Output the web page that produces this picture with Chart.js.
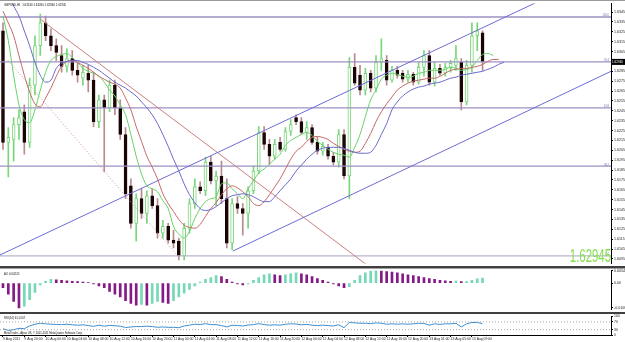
<!DOCTYPE html>
<html>
<head>
<meta charset="utf-8">
<script src="https://cdn.jsdelivr.net/npm/chart.js@4/dist/chart.umd.min.js"></script>
<style>
  html, body { margin: 0; padding: 0; background: #fff; }
  #wrap { position: relative; width: 625px; height: 342px; overflow: hidden; background: #fff; }
  .pane { position: absolute; left: 0; }
  #mainPane { top: 0; }
  #aoPane { top: 267px; }
  #rsiPane { top: 313px; }
</style>
</head>
<body>
<div id="wrap">
  <div class="pane" id="mainPane"><canvas id="mainChart" width="625" height="267"></canvas></div>
  <div class="pane" id="aoPane"><canvas id="aoChart" width="625" height="46"></canvas></div>
  <div class="pane" id="rsiPane"><canvas id="rsiChart" width="625" height="29"></canvas></div>
</div>
<script>
// ---------- data ----------
const symbolName = 'GBPUSD,H1'
const copyright = 'MetaTrader - Alpari UK, \u00a9 2001-2011 MetaQuotes Software Corp.'

const timeLabels = [
  '9 Aug 2011', '9 Aug 20:00', '10 Aug 00:00', '10 Aug 04:00', '10 Aug 08:00', '10 Aug 12:00',
  '10 Aug 16:00', '10 Aug 20:00', '11 Aug 00:00', '11 Aug 04:00', '11 Aug 08:00', '11 Aug 12:00',
  '11 Aug 16:00', '11 Aug 20:00', '12 Aug 00:00', '12 Aug 04:00', '12 Aug 08:00', '12 Aug 12:00',
  '12 Aug 16:00', '12 Aug 20:00', '13 Aug 01:00', '13 Aug 05:00', '13 Aug 09:00'
]
const timeTickBars = [0, 4, 8, 12, 16, 20, 24, 28, 32, 36, 40, 44, 48, 52, 56, 60, 64, 68, 72, 76, 80, 84, 88]

const priceTicks = [
  1.6095, 1.6105, 1.6115, 1.6125, 1.6135, 1.6145, 1.6155, 1.6165, 1.6175, 1.6185, 1.6195, 1.6205, 1.6215,
  1.6225, 1.6235, 1.6245, 1.6255, 1.6265, 1.6275, 1.6285, 1.6295, 1.6305, 1.6315, 1.6325, 1.6335, 1.6345
]

const opens = [
  1.6326, 1.6213, 1.6216, 1.6231, 1.6244, 1.6213, 1.6271, 1.6311, 1.6334, 1.6321,
  1.6311, 1.6301, 1.6290, 1.6298, 1.6286, 1.6278, 1.6283, 1.6276, 1.6234, 1.6256,
  1.6248, 1.6271, 1.6248, 1.6221, 1.6169, 1.6131, 1.6156, 1.6141, 1.6159, 1.6149,
  1.6121, 1.6128, 1.6114, 1.6113, 1.6098, 1.6126, 1.6151, 1.6168, 1.6164, 1.6193,
  1.6174, 1.6179, 1.6156, 1.6111, 1.6151, 1.6146, 1.6141, 1.6164, 1.6184, 1.6223,
  1.6211, 1.6199, 1.6213, 1.6206, 1.6224, 1.6238, 1.6234, 1.6223, 1.6228, 1.6213,
  1.6204, 1.6208, 1.6199, 1.6193, 1.6221, 1.6179, 1.6289, 1.6281, 1.6266, 1.6283,
  1.6268, 1.6294, 1.6296, 1.6276, 1.6286, 1.6283, 1.6277, 1.6282, 1.6274, 1.6289,
  1.6301, 1.6274, 1.6288, 1.6283, 1.6289, 1.6291, 1.6294, 1.6254, 1.6291, 1.6321,
  1.6324
]
const highs = [
  1.6334, 1.6228, 1.6238, 1.6246, 1.6251, 1.6278, 1.6321, 1.6343, 1.6341, 1.6328,
  1.6318, 1.6311, 1.6308, 1.6306, 1.6294, 1.6291, 1.6291, 1.6284, 1.6261, 1.6261,
  1.6276, 1.6276, 1.6256, 1.6228, 1.6176, 1.6161, 1.6166, 1.6164, 1.6166, 1.6156,
  1.6134, 1.6131, 1.6124, 1.6116, 1.6131, 1.6156, 1.6176, 1.6173, 1.6198, 1.6199,
  1.6184, 1.6194, 1.6176, 1.6156, 1.6158, 1.6151, 1.6168, 1.6189, 1.6229, 1.6229,
  1.6216, 1.6216, 1.6218, 1.6228, 1.6236, 1.6241, 1.6238, 1.6234, 1.6231, 1.6218,
  1.6213, 1.6211, 1.6203, 1.6226, 1.6226, 1.6299, 1.6303, 1.6291, 1.6288, 1.6286,
  1.6301, 1.6318, 1.6301, 1.6290, 1.6290, 1.6286, 1.6286, 1.6284, 1.6294, 1.6306,
  1.6306, 1.6294, 1.6292, 1.6293, 1.6296, 1.6311, 1.6298, 1.6296, 1.6334, 1.6334,
  1.6326
]
const lows = [
  1.6206, 1.6178, 1.6194, 1.6216, 1.6201, 1.6208, 1.6261, 1.6301, 1.6316, 1.6306,
  1.6296, 1.6284, 1.6284, 1.6281, 1.6274, 1.6271, 1.6264, 1.6229, 1.6228, 1.6183,
  1.6244, 1.6241, 1.6216, 1.6156, 1.6126, 1.6113, 1.6136, 1.6131, 1.6146, 1.6116,
  1.6116, 1.6111, 1.6106, 1.6094, 1.6094, 1.6121, 1.6146, 1.6161, 1.6159, 1.6171,
  1.6149, 1.6151, 1.6106, 1.6104, 1.6141, 1.6119, 1.6126, 1.6161, 1.6181, 1.6206,
  1.6191, 1.6196, 1.6204, 1.6204, 1.6220, 1.6231, 1.6221, 1.6216, 1.6211, 1.6201,
  1.6200, 1.6196, 1.6190, 1.6188, 1.6176, 1.6156, 1.6271, 1.6261, 1.6261, 1.6264,
  1.6264, 1.6286, 1.6271, 1.6274, 1.6278, 1.6274, 1.6274, 1.6271, 1.6272, 1.6280,
  1.6271, 1.6270, 1.6281, 1.6280, 1.6284, 1.6286, 1.6246, 1.6251, 1.6284, 1.6306,
  1.6286
]
const closes = [
  1.6213, 1.6218, 1.6231, 1.6238, 1.6213, 1.6271, 1.6311, 1.6334, 1.6321, 1.6311,
  1.6304, 1.6290, 1.6298, 1.6286, 1.6281, 1.6284, 1.6276, 1.6234, 1.6256, 1.6248,
  1.6271, 1.6248, 1.6221, 1.6161, 1.6131, 1.6156, 1.6141, 1.6159, 1.6149, 1.6121,
  1.6128, 1.6114, 1.6111, 1.6098, 1.6126, 1.6151, 1.6168, 1.6164, 1.6193, 1.6174,
  1.6179, 1.6156, 1.6111, 1.6151, 1.6146, 1.6141, 1.6164, 1.6184, 1.6223, 1.6211,
  1.6199, 1.6211, 1.6206, 1.6224, 1.6231, 1.6234, 1.6223, 1.6228, 1.6213, 1.6204,
  1.6209, 1.6199, 1.6193, 1.6221, 1.6179, 1.6289, 1.6273, 1.6266, 1.6283, 1.6268,
  1.6294, 1.6298, 1.6276, 1.6286, 1.6281, 1.6277, 1.6282, 1.6274, 1.6289, 1.6301,
  1.6274, 1.6288, 1.6283, 1.6289, 1.6293, 1.6298, 1.6254, 1.6291, 1.6321, 1.6326,
  1.62945
]

// Alligator lines (lips green, teeth red, jaw blue), shifted past the last bar
const lipsLine = [
  1.6341, 1.6316, 1.6281, 1.6251, 1.6236, 1.6233, 1.6246, 1.6266, 1.6284, 1.6296,
  1.6300, 1.6302, 1.6303, 1.6299, 1.6294, 1.6288, 1.6285, 1.6283, 1.6280, 1.6274,
  1.6266, 1.6260, 1.6251, 1.6241, 1.6221, 1.6199, 1.6181, 1.6169, 1.6166, 1.6163,
  1.6154, 1.6146, 1.6128, 1.6120, 1.6116, 1.6123, 1.6136, 1.6146, 1.6153, 1.6156,
  1.6158, 1.6171, 1.6172, 1.6166, 1.6161, 1.6156, 1.6166, 1.6174, 1.6182, 1.6186,
  1.6191, 1.6196, 1.6201, 1.6210, 1.6215, 1.6218, 1.6221, 1.6223, 1.6220, 1.6214,
  1.6210, 1.6206, 1.6203, 1.6201, 1.6200, 1.6198, 1.6208, 1.6221, 1.6239, 1.6256,
  1.6266, 1.6277, 1.6281, 1.6283, 1.6282, 1.6280, 1.6279, 1.6280, 1.6283, 1.6284,
  1.6286, 1.6286, 1.6286, 1.6287, 1.6289, 1.6288, 1.6286, 1.6287, 1.6289, 1.6296,
  1.6302, 1.6303, 1.6301
]
const teethLine = [
  1.6346, 1.6334, 1.6321, 1.6301, 1.6281, 1.6264, 1.6252, 1.6249, 1.6258, 1.6268,
  1.6280, 1.6290, 1.6295, 1.6296, 1.6294, 1.6291, 1.6288, 1.6284, 1.6280, 1.6277,
  1.6274, 1.6272, 1.6268, 1.6258, 1.6246, 1.6229, 1.6214, 1.6199, 1.6188, 1.6176,
  1.6161, 1.6151, 1.6143, 1.6135, 1.6129, 1.6127, 1.6126, 1.6130, 1.6138, 1.6146,
  1.6152, 1.6160, 1.6166, 1.6169, 1.6167, 1.6163, 1.6158, 1.6151, 1.6149, 1.6153,
  1.6160, 1.6168, 1.6176, 1.6186, 1.6196, 1.6204, 1.6208, 1.6214, 1.6218, 1.6219,
  1.6218, 1.6216, 1.6212, 1.6209, 1.6206, 1.6204, 1.6203, 1.6204, 1.6212, 1.6222,
  1.6234, 1.6244, 1.6252, 1.6259, 1.6266, 1.6270, 1.6273, 1.6275, 1.6276, 1.6277,
  1.6278, 1.6278, 1.6280, 1.6283, 1.6286, 1.6287, 1.6288, 1.6288, 1.6289, 1.6290,
  1.6292, 1.6295, 1.6297, 1.6297
]
const jawLine = [
  1.6366, 1.6361, 1.6351, 1.6341, 1.6326, 1.6311, 1.6294, 1.6281, 1.6274, 1.6276,
  1.6288, 1.6293, 1.6295, 1.6296, 1.6296, 1.6294, 1.6292, 1.6289, 1.6286, 1.6282,
  1.6278, 1.6274, 1.6271, 1.6268, 1.6264, 1.6260, 1.6254, 1.6248, 1.6241, 1.6232,
  1.6221, 1.6209, 1.6196, 1.6184, 1.6171, 1.6160, 1.6152, 1.6146, 1.6144, 1.6145,
  1.6148, 1.6152, 1.6156, 1.6159, 1.6160, 1.6161, 1.6160, 1.6158, 1.6155, 1.6153,
  1.6153, 1.6158, 1.6164, 1.6170, 1.6176, 1.6184, 1.6190, 1.6196, 1.6201, 1.6205,
  1.6207, 1.6208, 1.6208, 1.6208, 1.6207, 1.6205, 1.6203, 1.6202, 1.6202, 1.6203,
  1.6210, 1.6221, 1.6232, 1.6246, 1.6254, 1.6260, 1.6264, 1.6267, 1.6269, 1.6270,
  1.6272, 1.6273, 1.6274, 1.6276, 1.6278, 1.6279, 1.6281, 1.6282, 1.6283, 1.6284,
  1.6285, 1.6287, 1.6289, 1.6292, 1.6294
]

// drawn objects: [bar, price] end points
const upperChannel = [[-0.56, 1.6099], [99.8, 1.6354]]
const lowerChannel = [[43.15, 1.6103], [114.1, 1.6285]]
const redTrend = [[6.94, 1.6338], [68.5, 1.6088]]
const redDotted = [[0.94, 1.6296], [32.8, 1.6098]]
const levelPrices = [1.6340, 1.62945, 1.6248, 1.6189, 1.6098]
const levelLabels = ['100.0', '76.4', '61.8', '38.2', '0.0']
const bigPriceText = '1.62945'

const aoValues = [
  -0.0020, -0.0048, -0.0080, -0.0108, -0.0100, -0.0072, -0.0040, -0.0008, 0.0008, 0.0016,
  0.0014, 0.0012, 0.0010, 0.0008, 0.0006, 0.0004, 0.0002, -0.0004, -0.0012, -0.0020,
  -0.0036, -0.0048, -0.0060, -0.0076, -0.0088, -0.0096, -0.0092, -0.0096, -0.0088, -0.0080,
  -0.0084, -0.0088, -0.0076, -0.0060, -0.0044, -0.0028, -0.0012, 0.0004, 0.0016, 0.0024,
  0.0032, 0.0028, 0.0016, 0.0004, -0.0004, -0.0008, -0.0004, 0.0012, 0.0024, 0.0036,
  0.0040, 0.0036, 0.0032, 0.0036, 0.0040, 0.0044, 0.0040, 0.0036, 0.0028, 0.0020,
  0.0012, 0.0004, -0.0004, -0.0012, -0.0020, -0.0016, 0.0012, 0.0032, 0.0044, 0.0052,
  0.0054, 0.0052, 0.0050, 0.0048, 0.0044, 0.0040, 0.0036, 0.0032, 0.0028, 0.0024,
  0.0020, 0.0016, 0.0012, 0.0010, 0.0008, 0.0009, 0.0006, 0.0007, 0.0012, 0.0018,
  0.0022
]
const aoTicks = [-0.0108, 0, 0.0054]

const rsiValues = [
  35, 26, 30, 37, 35, 49, 58, 63, 60, 58,
  57, 56, 58, 55, 53, 55, 51, 47, 53, 48,
  52, 50, 48, 41, 44, 46, 46, 48, 46, 42,
  44, 42, 42, 40, 49, 53, 58, 56, 61, 56,
  56, 51, 44, 53, 51, 49, 54, 56, 61, 56,
  53, 55, 53, 58, 60, 59, 55, 57, 53, 51,
  53, 51, 49, 55, 40, 67, 65, 63, 63, 61,
  65, 63, 58, 60, 58, 60, 58, 60, 63, 62,
  53, 60, 57, 60, 60, 63, 44, 60, 67, 67,
  61.0107
]
const rsiTicks = [0, 30, 70, 100]
const rsiLevels = [70, 30]

// ---------- helpers ----------
const barMin = -0.56
const barMax = 114.1
const FONT = '"Liberation Sans", Arial, sans-serif'

const pts = (arr) => arr.map((v, i) => ({ x: i, y: v }))
const seg = (pair) => pair.map(([x, y]) => ({ x, y }))
const flat = (y) => [{ x: barMin, y }, { x: barMax, y }]

function squish(ctx, text, x, y, size, color, sx, align = 'left') {
  ctx.save()
  ctx.translate(x, y)
  ctx.scale(sx, 1)
  ctx.font = `${size}px ${FONT}`
  ctx.fillStyle = color
  ctx.textAlign = align
  ctx.textBaseline = 'alphabetic'
  ctx.fillText(text, 0, 0)
  ctx.restore()
}

const lineSet = (data, color, extra = {}) => ({
  type: 'line',
  data,
  borderColor: color,
  borderWidth: 1,
  pointRadius: 0,
  fill: false,
  ...extra
})

const rightAxis = (extra) => ({
  position: 'right',
  bounds: 'data',
  beginAtZero: false,
  afterFit: (s) => { s.width = 14 },
  grid: { drawOnChartArea: false, tickLength: 2, color: '#000' },
  border: { color: '#000' },
  ...extra
})

const hiddenX = {
  type: 'linear', min: barMin, max: barMax, offset: false, display: false, bounds: 'data'
}

const base = {
  responsive: false,
  animation: false,
  devicePixelRatio: 1,
  events: [],
  plugins: { legend: { display: false }, tooltip: { enabled: false } }
}

// ---------- main price panel ----------
const isBull = closes.map((c, i) => c >= opens[i])

const mainDecor = {
  id: 'mainDecor',
  afterDraw(chart) {
    const { ctx, scales } = chart
    const last = closes.length - 1
    const head = `${symbolName}  ${opens[last].toFixed(5)} ${highs[last].toFixed(5)} ${lows[last].toFixed(5)} ${closes[last].toFixed(5)}`
    ctx.save()
    ctx.fillStyle = '#9a9a9a'
    ctx.fillRect(0, 0, 625, 1)
    ctx.fillStyle = '#404040'
    ctx.fillRect(0, 266, 625, 1)
    squish(ctx, head, 4, 6, 3.6, '#111', 0.8)

    levelPrices.forEach((p, i) => {
      const y = scales.y.getPixelForValue(p)
      squish(ctx, levelLabels[i], 609, y - 0.5, 3.2, '#7468a8', 0.8, 'right')
    })

    squish(ctx, bigPriceText, 611, 262, 19, '#84e04c', 0.6, 'right')

    const by = scales.y.getPixelForValue(closes[last])
    ctx.fillStyle = '#000'
    ctx.fillRect(611, by - 3, 14, 6)
    squish(ctx, closes[last].toFixed(5), 612, by + 1.5, 3.6, '#fff', 0.85)
    ctx.restore()
  }
}

new Chart(document.getElementById('mainChart'), {
  type: 'bar',
  data: {
    datasets: [
      {
        label: 'wicks',
        data: highs.map((h, i) => ({ x: i, y: [lows[i], h] })),
        backgroundColor: isBull.map((b) => (b ? '#7ad67a' : '#b88a8e')),
        barThickness: 1,
        grouped: false,
        order: 6
      },
      {
        label: 'bodies',
        data: opens.map((o, i) => ({ x: i, y: [o, closes[i]] })),
        backgroundColor: isBull.map((b) => (b ? '#ffffff' : '#1a0505')),
        borderColor: isBull.map((b) => (b ? '#7ad67a' : '#1a0505')),
        borderWidth: 1,
        borderSkipped: false,
        barThickness: 3,
        minBarLength: 1,
        grouped: false,
        order: 5
      },
      ...levelPrices.map((p, i) =>
        lineSet(flat(p), i === levelPrices.length - 1 ? '#bdb6cc' : '#9c90c2', { borderWidth: 1.3, order: 4 })
      ),
      lineSet(seg(upperChannel), '#6c6cd6', { order: 3 }),
      lineSet(seg(lowerChannel), '#6c6cd6', { order: 3 }),
      lineSet(seg(redTrend), '#c98080', { order: 3 }),
      lineSet(seg(redDotted), '#d49090', { borderDash: [1, 2], order: 3 }),
      lineSet(pts(jawLine), '#6a6acc', { cubicInterpolationMode: 'monotone', order: 1 }),
      lineSet(pts(teethLine), '#c46868', { cubicInterpolationMode: 'monotone', order: 1 }),
      lineSet(pts(lipsLine), '#66d266', { cubicInterpolationMode: 'monotone', order: 1 })
    ]
  },
  options: {
    ...base,
    layout: { padding: { top: 2, bottom: 1, left: 0, right: 0 } },
    scales: {
      x: hiddenX,
      y: rightAxis({
        min: 1.6090,
        max: 1.6354,
        afterBuildTicks: (s) => { s.ticks = priceTicks.map((v) => ({ value: v })) },
        ticks: {
          font: { size: 3.6, family: FONT },
          color: '#222',
          padding: 1,
          autoSkip: false,
          callback: (v) => Number(v).toFixed(4)
        }
      })
    }
  },
  plugins: [mainDecor]
})

// ---------- Awesome Oscillator ----------
const aoColors = aoValues.map((v, i) => (i > 0 && v > aoValues[i - 1] ? '#76d8b4' : '#841a86'))

const aoDecor = {
  id: 'aoDecor',
  afterDraw(chart) {
    const { ctx } = chart
    ctx.save()
    ctx.fillStyle = '#404040'
    ctx.fillRect(0, 0, 625, 1.5)
    ctx.fillRect(0, 45, 625, 1)
    squish(ctx, `AO ${aoValues[aoValues.length - 1].toFixed(5)}`, 4, 8, 3.6, '#111', 0.8)
    ctx.restore()
  }
}

new Chart(document.getElementById('aoChart'), {
  type: 'bar',
  data: {
    datasets: [{
      data: pts(aoValues),
      backgroundColor: aoColors,
      barThickness: 2,
      grouped: false
    }]
  },
  options: {
    ...base,
    layout: { padding: { top: 2, bottom: 1, left: 0, right: 0 } },
    scales: {
      x: hiddenX,
      y: rightAxis({
        min: -0.0116,
        max: 0.0056,
        afterBuildTicks: (s) => { s.ticks = aoTicks.map((v) => ({ value: v })) },
        ticks: {
          font: { size: 3.6, family: FONT },
          color: '#222',
          padding: 1,
          autoSkip: false,
          callback: (v) => (v === 0 ? '0.00' : Number(v).toFixed(6))
        }
      })
    }
  },
  plugins: [aoDecor]
})

// ---------- RSI(14) ----------
const rsiDecor = {
  id: 'rsiDecor',
  afterDraw(chart) {
    const { ctx } = chart
    ctx.save()
    ctx.fillStyle = '#404040'
    ctx.fillRect(0, 0, 625, 1)
    squish(ctx, `RSI(14) ${rsiValues[rsiValues.length - 1].toFixed(4)}`, 4, 5.5, 3.6, '#111', 0.8)
    squish(ctx, copyright, 4, 21, 3.6, '#111', 0.75)
    ctx.restore()
  }
}

new Chart(document.getElementById('rsiChart'), {
  type: 'line',
  data: {
    datasets: [
      ...rsiLevels.map((lv) => lineSet(flat(lv), '#a8a8a8', { borderDash: [1, 2] })),
      lineSet(pts(rsiValues), '#3f8ed0', { tension: 0 })
    ]
  },
  options: {
    ...base,
    layout: { padding: { top: 1, bottom: 0, left: 0, right: 0 } },
    scales: {
      x: {
        type: 'linear',
        min: barMin,
        max: barMax,
        offset: false,
        bounds: 'data',
        afterBuildTicks: (s) => { s.ticks = timeTickBars.map((v) => ({ value: v })) },
        afterFit: (s) => { s.height = 6.5 },
        ticks: {
          font: { size: 3.4, family: FONT },
          color: '#222',
          padding: 0,
          autoSkip: false,
          maxRotation: 0,
          minRotation: 0,
          align: 'start',
          callback: (v, idx) => timeLabels[idx]
        },
        grid: { drawOnChartArea: false, tickLength: 1.5, color: '#000' },
        border: { color: '#000' }
      },
      y: rightAxis({
        min: 0,
        max: 100,
        afterBuildTicks: (s) => { s.ticks = rsiTicks.map((v) => ({ value: v })) },
        ticks: {
          font: { size: 3.4, family: FONT },
          color: '#222',
          padding: 1,
          autoSkip: false,
          callback: (v) => String(v)
        }
      })
    }
  },
  plugins: [rsiDecor]
})
</script>
</body>
</html>
